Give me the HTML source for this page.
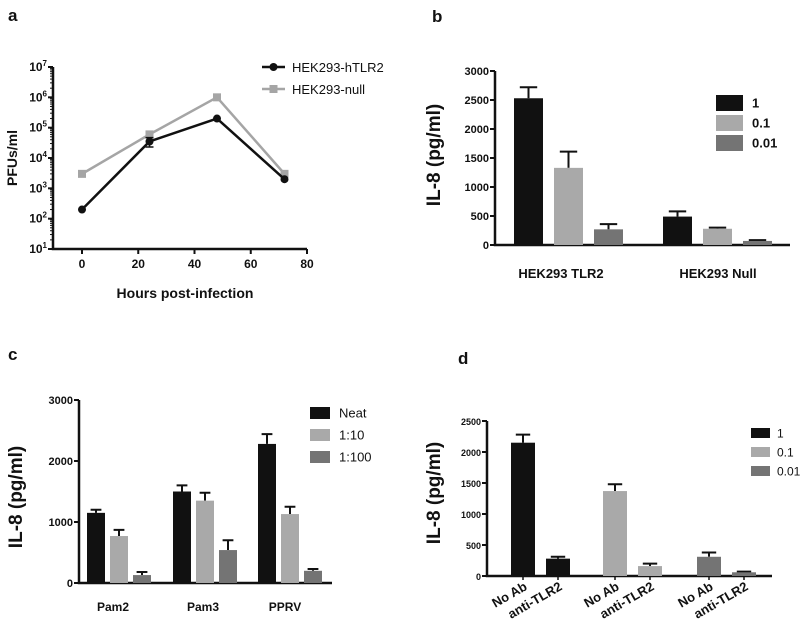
<!DOCTYPE html>
<html><head><meta charset="utf-8"><style>
body{margin:0;background:#fff;}
svg{display:block;font-family:"Liberation Sans",Arial,sans-serif;}
</style></head><body>
<svg id="fig" width="800" height="636" viewBox="0 0 800 636"></svg>
<script>
// Panel a data
const aHours=[0,24,48,72];
const aTLR2=[200,35000,200000,2000];
const aTLR2Err=[0,12000,0,0];
const aNull=[3000,60000,1000000,3000];
const aXTicks=[0,20,40,60,80];
const aYExp=[1,2,3,4,5,6,7];
// Panel b data
const bCats=["HEK293 TLR2","HEK293 Null"];
const bSeries=["1","0.1","0.01"];
const bVals=[[2530,490],[1330,280],[270,70]];
const bErr=[[190,90],[280,20],[90,15]];
const bTicks=[0,500,1000,1500,2000,2500,3000];
// Panel c data
const cCats=["Pam2","Pam3","PPRV"];
const cSeries=["Neat","1:10","1:100"];
const cVals=[[1150,1500,2280],[770,1350,1130],[130,540,200]];
const cErr=[[50,100,160],[100,130,120],[50,160,30]];
const cTicks=[0,1000,2000,3000];
// Panel d data
const dSeries=["1","0.1","0.01"];
const dCats=["No Ab","anti-TLR2"];
const dVals=[[2150,280],[1370,160],[310,60]];
const dErr=[[130,30],[110,40],[70,10]];
const dTicks=[0,500,1000,1500,2000,2500];

const colors=["#111111","#a9a9a9","#747474"];
const NS="http://www.w3.org/2000/svg";
const svg=document.getElementById('fig');
function el(tag,attrs,parent,text){const e=document.createElementNS(NS,tag);for(const k in attrs)e.setAttribute(k,attrs[k]);if(text!==undefined)e.textContent=text;(parent||svg).appendChild(e);return e;}
function grp(name){const g=el('g',{});return g;}
function txt(parent,x,y,s,size,opts){opts=opts||{};const t=el('text',{x:x,y:y,'font-size':size,'font-weight':opts.w||'bold','text-anchor':opts.a||'middle',fill:'#111'},parent,s);if(opts.tr)t.setAttribute('transform',opts.tr);return t;}

// ---- Panel a ----
(function(){
 const g=grp('panel-a');
 const X0=53,X1=307,Y0=249,Y1=67;
 const sx=v=>82+(v-0)*(307-82)/80;
 const sy=v=>Y0-(Math.log10(v)-1)*(Y0-Y1)/6;
 const lbl=txt(g,8,21,'a',17,{a:'start'});
 const ax=el('path',{d:`M${X0},${Y1} V${Y0} H${X1}`,stroke:'#111','stroke-width':2.5,fill:'none'},g);
 
 aYExp.forEach(e=>{const y=sy(Math.pow(10,e));el('line',{x1:X0-5,x2:X0,y1:y,y2:y,stroke:'#111','stroke-width':2},g);
  for(let m=2;m<10&&e<7;m++){const ym=sy(m*Math.pow(10,e));el('line',{x1:X0-3,x2:X0,y1:ym,y2:ym,stroke:'#111','stroke-width':1},g);}
  const t=el('text',{x:X0-6,y:y+4,'font-size':12,'font-weight':'bold','text-anchor':'end',fill:'#111'},g);
  
  t.appendChild(document.createTextNode('10'));el('tspan',{dy:-5,'font-size':8},t,String(e));});
 aXTicks.forEach(v=>{const x=sx(v);el('line',{x1:x,x2:x,y1:Y0,y2:Y0+5,stroke:'#111','stroke-width':2},g);const t=txt(g,x,Y0+19,String(v),12);});
 const xt=txt(g,185,298,'Hours post-infection',14);
 const yt=txt(g,0,0,'PFUs/ml',14,{tr:'translate(17,158) rotate(-90)'});
 const p2=aHours.map((h,i)=>`${sx(h)},${sy(aNull[i])}`).join(' ');
 const l2=el('polyline',{points:p2,fill:'none',stroke:'#a5a5a5','stroke-width':2.5},g);
 aHours.forEach((h,i)=>{const r=el('rect',{x:sx(h)-4,y:sy(aNull[i])-4,width:8,height:8,fill:'#a5a5a5'},g);});
 const p1=aHours.map((h,i)=>`${sx(h)},${sy(aTLR2[i])}`).join(' ');
 const l1=el('polyline',{points:p1,fill:'none',stroke:'#111','stroke-width':2.5},g);
 aHours.forEach((h,i)=>{const x=sx(h);if(aTLR2Err[i]){const yt=sy(aTLR2[i]+aTLR2Err[i]),yb=sy(aTLR2[i]-aTLR2Err[i]);el('path',{d:`M${x},${yt}V${yb}M${x-4},${yt}H${x+4}M${x-4},${yb}H${x+4}`,stroke:'#111','stroke-width':1.5},g);}
  const c=el('circle',{cx:x,cy:sy(aTLR2[i]),r:4,fill:'#111'},g);});
 const leg=[['HEK293-hTLR2','#111',67,'c'],['HEK293-null','#a5a5a5',89,'s']];
 leg.forEach(L=>{const lg=el('g',{},g);
  el('line',{x1:262,x2:285,y1:L[2],y2:L[2],stroke:L[1],'stroke-width':2.5},lg);
  if(L[3]=='c')el('circle',{cx:273.5,cy:L[2],r:4,fill:L[1]},lg);else el('rect',{x:269.5,y:L[2]-4,width:8,height:8,fill:L[1]},lg);
  txt(lg,292,L[2]+5,L[0],13,{a:'start',w:'normal'});});
})();

function barPanel(cfg){
 const g=grp(cfg.name);
 const sy=v=>cfg.Y0-v*(cfg.Y0-cfg.Y1)/cfg.ymax;
 const lbl=txt(g,cfg.lx,cfg.ly,cfg.letter,17,{a:'start'});
 const ax=el('path',{d:`M${cfg.X0},${cfg.Y1} V${cfg.Y0} H${cfg.X1}`,stroke:'#111','stroke-width':2.5,fill:'none'},g);
 
 cfg.ticks.forEach(v=>{const y=sy(v);el('line',{x1:cfg.X0-5,x2:cfg.X0,y1:y,y2:y,stroke:'#111','stroke-width':2},g);const t=txt(g,cfg.X0-6,y+4,String(v),cfg.tfs,{a:'end'});});
 const yt=txt(g,0,0,'IL-8 (pg/ml)',cfg.yfs,{tr:`translate(${cfg.ytx},${cfg.yty}) rotate(-90)`});
 cfg.bars.forEach(b=>{const y=sy(b.v),ye=sy(b.v+b.e),cx=b.x+cfg.bw/2;
  el('path',{d:`M${cx},${y}V${ye}M${cx-cfg.bw*0.3},${ye}H${cx+cfg.bw*0.3}`,stroke:'#111','stroke-width':2},g);
  const r=el('rect',{x:b.x,y:y,width:cfg.bw,height:cfg.Y0-y,fill:b.c},g);});
 cfg.legend.forEach((L,i)=>{const lg=el('g',{},g);
  const y=cfg.legY+i*cfg.legDy;el('rect',{x:cfg.legX,y:y-cfg.legH/2,width:cfg.legW,height:cfg.legH,fill:colors[i]},lg);
  txt(lg,cfg.legX+cfg.legW+cfg.legGap,y+cfg.legFs*0.36,L,cfg.legFs,{a:'start',w:cfg.legWt});});
 return {g,sy};
}

// ---- Panel b ----
(function(){
 const bars=[];const starts=[514,663];
 bCats.forEach((c,ci)=>bSeries.forEach((s,si)=>bars.push({x:starts[ci]+si*40,v:bVals[si][ci],e:bErr[si][ci],c:colors[si],n:'bar-'+c.replace(/ /g,'-').toLowerCase()+'-'+s})));
 const r=barPanel({name:'panel-b',letter:'b',lx:432,ly:22,X0:495,X1:790,Y0:245,Y1:71,ymax:3000,ticks:bTicks,tfs:11,yfs:19,ytx:440,yty:155,bw:29,bars,
  legend:bSeries,legX:716,legY:103,legDy:20,legW:27,legH:16,legGap:9,legFs:13,legWt:'bold'});
 const cx=[561,718];bCats.forEach((c,i)=>{const t=txt(r.g,cx[i],278,c,13);});
})();

// ---- Panel c ----
(function(){
 const bars=[];const starts=[87,173,258];
 cCats.forEach((c,ci)=>cSeries.forEach((s,si)=>bars.push({x:starts[ci]+si*23,v:cVals[si][ci],e:cErr[si][ci],c:colors[si],n:'bar-'+c.toLowerCase()+'-'+s})));
 const r=barPanel({name:'panel-c',letter:'c',lx:8,ly:360,X0:79,X1:332,Y0:583,Y1:400,ymax:3000,ticks:cTicks,tfs:11,yfs:19,ytx:22,yty:497,bw:18,bars,
  legend:cSeries,legX:310,legY:413,legDy:22,legW:20,legH:12,legGap:9,legFs:13,legWt:'normal'});
 const cx=[113,203,285];cCats.forEach((c,i)=>{const t=txt(r.g,cx[i],611,c,12);});
})();

// ---- Panel d ----
(function(){
 const bars=[];const starts=[511,603,697];const xs=[];
 dSeries.forEach((s,si)=>dCats.forEach((c,ci)=>{const x=starts[si]+ci*35;xs.push([x,c]);bars.push({x,v:dVals[si][ci],e:dErr[si][ci],c:colors[si],n:'bar-'+s+'-'+c.toLowerCase()});}));
 const r=barPanel({name:'panel-d',letter:'d',lx:458,ly:364,X0:487,X1:772,Y0:576,Y1:421,ymax:2500,ticks:dTicks,tfs:9,yfs:19,ytx:440,yty:493,bw:24,bars,
  legend:dSeries,legX:751,legY:433,legDy:19,legW:19,legH:10,legGap:7,legFs:12,legWt:'normal'});
 xs.forEach(([x,c])=>{const cx=x+12;el('line',{x1:cx,x2:cx,y1:576,y2:580,stroke:'#111','stroke-width':1.5},r.g);
  const t=txt(r.g,0,0,c,13,{a:'end',tr:`translate(${cx+5},${589}) rotate(-30)`});});
})();
</script>
</body></html>
